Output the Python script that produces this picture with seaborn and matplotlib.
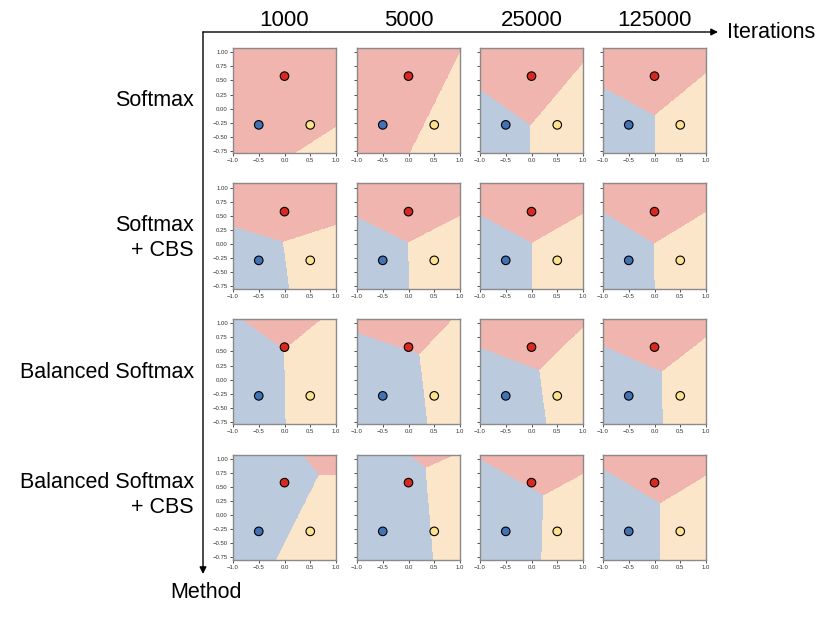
import numpy as np
import matplotlib
matplotlib.use("Agg")
import matplotlib.pyplot as plt
from matplotlib.colors import ListedColormap
from matplotlib.patches import FancyArrowPatch
import seaborn as sns

# ── DATA ───────────────────────────────────────────────────
ITERATIONS = ['1000', '5000', '25000', '125000']
METHODS = ['Softmax', 'Softmax\n+ CBS', 'Balanced Softmax', 'Balanced Softmax\n+ CBS']

CLASSES = ['blue', 'red', 'yellow']
CLASS_X = [-0.5, 0.0, 0.5]
CLASS_Y = [-0.289, 0.577, -0.289]

# meeting point of the three decision boundaries (rows = method, cols = iterations)
JUNC_X = [[-0.50, -0.20, -0.02, 0.00],
          [-0.03, -0.01, 0.01, -0.01],
          [-0.01, 0.21, 0.15, 0.14],
          [0.67, 0.33, 0.23, 0.11]]
JUNC_Y = [[-1.20, -1.20, -0.30, -0.12],
          [0.04, 0.03, 0.02, 0.01],
          [0.53, 0.45, 0.17, 0.14],
          [0.72, 0.84, 0.35, 0.21]]

# a point on each boundary ray: red|blue, blue|yellow, yellow|red
RB_END = [[(-1.5, -1.2), (-1.2, -1.2), (-1.0, 0.34), (-1.0, 0.38)],
          [(-1.0, 0.31), (-1.0, 0.48), (-1.0, 0.52), (-1.0, 0.57)],
          [(-0.84, 1.077), (-1.0, 0.83), (-1.0, 0.57), (-1.0, 0.60)],
          [(0.35, 1.077), (0.01, 1.077), (-1.0, 1.0), (-1.0, 0.82)]]
BY_END = [[(-0.5, -2.2), (-0.2, -2.2), (-0.02, -0.789), (0.0, -0.789)],
          [(0.09, -0.789), (0.01, -0.789), (0.01, -0.789), (0.0, -0.789)],
          [(0.02, -0.789), (0.37, -0.789), (0.29, -0.789), (0.16, -0.789)],
          [(-0.16, -0.789), (0.48, -0.789), (0.19, -0.789), (0.11, -0.789)]]
YR_END = [[(1.0, -0.325), (1.0, 1.0), (1.0, 0.81), (1.0, 0.63)],
          [(1.0, 0.34), (1.0, 0.50), (1.0, 0.54), (1.0, 0.57)],
          [(0.72, 1.077), (0.86, 1.077), (1.0, 0.93), (1.0, 0.75)],
          [(1.0, 0.72), (0.92, 1.077), (1.0, 0.73), (1.0, 0.70)]]

REGION_COLORS = ['#bccadd', '#efb5ae', '#fce6c9']   # blue, red, yellow
POINT_COLORS = {'blue': '#4272b6', 'red': '#d7291f', 'yellow': '#fde28c'}

# ── SETTINGS ──────────────────────────────────────────────
sns.set_style('white')
plt.rcParams['font.family'] = ['Liberation Sans', 'DejaVu Sans']
plt.rcParams['text.color'] = 'black'

W, H = 830, 619
fig = plt.figure(figsize=(W / 100, H / 100), dpi=100)

XLIM = (min(CLASS_X) - 0.5, max(CLASS_X) + 0.5)
YLIM = (min(CLASS_Y) - 0.5, max(CLASS_Y) + 0.5)
gx = np.linspace(XLIM[0], XLIM[1], 500)
gy = np.linspace(YLIM[0], YLIM[1], 500)
xx, yy = np.meshgrid(gx, gy)


def region_labels(j, rb, by, yr):
    phi = np.arctan2(yy - j[1], xx - j[0])
    t = [np.arctan2(p[1] - j[1], p[0] - j[0]) for p in (rb, by, yr)]
    d = (phi - t[0]) % (2 * np.pi)
    d_by = (t[1] - t[0]) % (2 * np.pi)
    d_yr = (t[2] - t[0]) % (2 * np.pi)
    return np.where(d < d_by, 0, np.where(d < d_yr, 2, 1))


col_left = [233, 357, 480, 603]
row_top = [48, 183.5, 319, 454.5]
pw, ph = 103, 105
cmap = ListedColormap(REGION_COLORS)

for r in range(4):
    for c in range(4):
        ax = fig.add_axes([col_left[c] / W, 1 - (row_top[r] + ph) / H, pw / W, ph / H])
        lab = region_labels((JUNC_X[r][c], JUNC_Y[r][c]), RB_END[r][c],
                            BY_END[r][c], YR_END[r][c])
        ax.pcolormesh(xx, yy, lab, cmap=cmap, vmin=-0.5, vmax=2.5,
                      shading='auto', rasterized=True)
        sns.scatterplot(x=CLASS_X, y=CLASS_Y, hue=CLASSES, palette=POINT_COLORS,
                        s=38, edgecolor='black', linewidth=0.8, legend=False,
                        ax=ax, zorder=3)
        ax.set_xlim(XLIM)
        ax.set_ylim(YLIM)
        ax.set_xticks([-1.0, -0.5, 0.0, 0.5, 1.0])
        ax.set_yticks([-0.75, -0.5, -0.25, 0.0, 0.25, 0.5, 0.75, 1.0])
        ax.set_xticklabels(['−1.0', '−0.5', '0.0', '0.5', '1.0'])
        if c == 0:
            ax.set_yticklabels(['−0.75', '−0.50', '−0.25', '0.00',
                                '0.25', '0.50', '0.75', '1.00'])
        else:
            ax.set_yticklabels([])
        ax.tick_params(labelsize=4.3, length=2.2, width=0.6, pad=1.5,
                       colors='#333333', bottom=True, left=True)
        for s in ax.spines.values():
            s.set_color('#8a8a8a')
            s.set_linewidth(1.0)

# ── LABELS & ARROWS ────────────────────────────────────────
for c, name in enumerate(ITERATIONS):
    fig.text((col_left[c] + pw / 2) / W, 1 - 21 / H, name, fontsize=16,
             ha='center', va='center', color='black')

row_y = [101, 238, 372, 495]
for r, name in enumerate(METHODS):
    fig.text(194 / W, 1 - row_y[r] / H, name, fontsize=15.5, ha='right',
             va='center', multialignment='right', color='black')

corner = (203 / W, 1 - 32 / H)
fig.add_artist(FancyArrowPatch(corner, (718 / W, 1 - 32 / H), transform=fig.transFigure,
                               arrowstyle='-|>', mutation_scale=10, lw=1,
                               color='black', shrinkA=0, shrinkB=0))
fig.add_artist(FancyArrowPatch(corner, (203 / W, 1 - 574 / H), transform=fig.transFigure,
                               arrowstyle='-|>', mutation_scale=10, lw=1,
                               color='black', shrinkA=0, shrinkB=0))
fig.text(727 / W, 1 - 33 / H, 'Iterations', fontsize=15.5, ha='left', va='center',
         color='black')
fig.text(206 / W, 1 - 593 / H, 'Method', fontsize=15.5, ha='center', va='center',
         color='black')

plt.savefig('out.png', dpi=100, facecolor='white')
